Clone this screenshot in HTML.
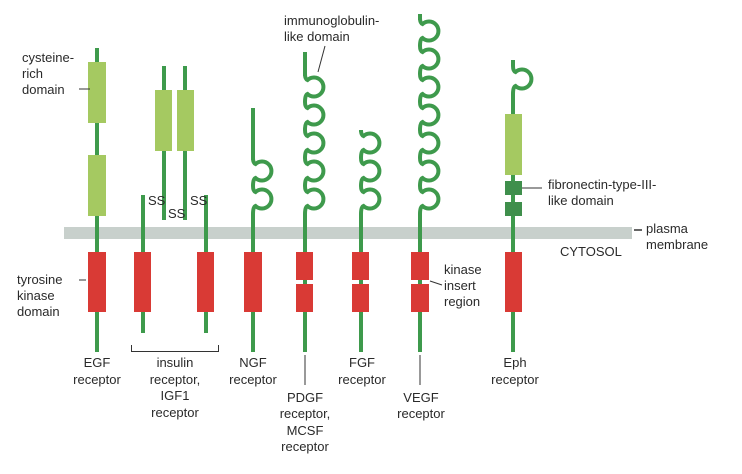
<!DOCTYPE html>
<html><head><meta charset="utf-8"><style>
html,body{margin:0;padding:0;background:#fff;}
svg{display:block;}
text{font-family:"Liberation Sans",sans-serif;font-size:13px;fill:#2a2a2a;}
</style></head><body>
<svg width="742" height="474" viewBox="0 0 742 474" xmlns="http://www.w3.org/2000/svg">
<defs>
<g id="loop"><path d="M0,0 Q0,5 2.5,6 A9.5 9.5 0 1 1 2.5,20 Q0,21 0,28" fill="none" stroke="#3e9a4c" stroke-width="4"/></g>
</defs>
<rect x="64" y="227" width="568" height="12" fill="#c8d0cc"/>
<g stroke="#3e9a4c" stroke-width="4" fill="none">
<line x1="97" y1="48" x2="97" y2="352"/>
<line x1="143" y1="195" x2="143" y2="333"/>
<line x1="206" y1="195" x2="206" y2="333"/>
<line x1="164" y1="66" x2="164" y2="220"/>
<line x1="185" y1="66" x2="185" y2="220"/>
<line x1="253" y1="108" x2="253" y2="160"/>
<line x1="253" y1="214" x2="253" y2="352"/>
<line x1="305" y1="52" x2="305" y2="76"/>
<line x1="305" y1="214" x2="305" y2="352"/>
<line x1="361" y1="130" x2="361" y2="132"/>
<line x1="361" y1="214" x2="361" y2="352"/>
<line x1="420" y1="14" x2="420" y2="20"/>
<line x1="420" y1="214" x2="420" y2="352"/>
<line x1="513" y1="60" x2="513" y2="66"/>
<line x1="513" y1="94" x2="513" y2="352"/>
</g>
<g>
<use href="#loop" x="253" y="158"/><use href="#loop" x="253" y="186"/>
<use href="#loop" x="305" y="74"/><use href="#loop" x="305" y="102"/><use href="#loop" x="305" y="130"/><use href="#loop" x="305" y="158"/><use href="#loop" x="305" y="186"/>
<use href="#loop" x="361" y="130"/><use href="#loop" x="361" y="158"/><use href="#loop" x="361" y="186"/>
<use href="#loop" x="420" y="18"/><use href="#loop" x="420" y="46"/><use href="#loop" x="420" y="74"/><use href="#loop" x="420" y="102"/><use href="#loop" x="420" y="130"/><use href="#loop" x="420" y="158"/><use href="#loop" x="420" y="186"/>
<use href="#loop" x="513" y="66"/>
</g>
<g fill="#a5c961">
<rect x="88" y="62" width="18" height="61"/>
<rect x="88" y="155" width="18" height="61"/>
<rect x="155" y="90" width="17" height="61"/>
<rect x="177" y="90" width="17" height="61"/>
<rect x="505" y="114" width="17" height="61"/>
</g>
<g fill="#3f8f4c">
<rect x="505" y="181" width="17" height="14"/>
<rect x="505" y="202" width="17" height="14"/>
</g>
<g fill="#d93a35">
<rect x="88" y="252" width="18" height="60"/>
<rect x="134" y="252" width="17" height="60"/>
<rect x="197" y="252" width="17" height="60"/>
<rect x="244" y="252" width="18" height="60"/>
<rect x="296" y="252" width="17" height="28"/><rect x="296" y="284" width="17" height="28"/>
<rect x="352" y="252" width="17" height="28"/><rect x="352" y="284" width="17" height="28"/>
<rect x="411" y="252" width="18" height="28"/><rect x="411" y="284" width="18" height="28"/>
<rect x="505" y="252" width="17" height="60"/>
</g>
<g stroke="#333" stroke-width="1" fill="none">
<line x1="79" y1="89" x2="90" y2="89"/>
<line x1="79" y1="280" x2="86" y2="280"/>
<line x1="325" y1="46" x2="318" y2="72"/>
<line x1="522" y1="188" x2="542" y2="188"/>
<line x1="634" y1="230" x2="642" y2="230" stroke-width="1.5"/>
<line x1="430" y1="281" x2="442" y2="285"/>
<path d="M131.5,345 V351.5 H218.5 V345"/>
<line x1="305" y1="355" x2="305" y2="385"/>
<line x1="420" y1="355" x2="420" y2="385"/>
</g>
<text x="22" y="62">cysteine-</text>
<text x="22" y="78">rich</text>
<text x="22" y="94">domain</text>
<text x="148" y="205" font-size="12">SS</text>
<text x="168" y="218" font-size="12">SS</text>
<text x="190" y="205" font-size="12">SS</text>
<text x="284" y="25">immunoglobulin-</text>
<text x="284" y="41">like domain</text>
<text x="548" y="189">fibronectin-type-III-</text>
<text x="548" y="205">like domain</text>
<text x="646" y="233">plasma</text>
<text x="646" y="249">membrane</text>
<text x="560" y="256">CYTOSOL</text>
<text x="17" y="284">tyrosine</text>
<text x="17" y="300">kinase</text>
<text x="17" y="316">domain</text>
<text x="444" y="274">kinase</text>
<text x="444" y="290">insert</text>
<text x="444" y="306">region</text>
<g text-anchor="middle">
<text x="97" y="367">EGF</text><text x="97" y="384">receptor</text>
<text x="175" y="367">insulin</text><text x="175" y="384">receptor,</text><text x="175" y="400">IGF1</text><text x="175" y="417">receptor</text>
<text x="253" y="367">NGF</text><text x="253" y="384">receptor</text>
<text x="305" y="402">PDGF</text><text x="305" y="418">receptor,</text><text x="305" y="435">MCSF</text><text x="305" y="451">receptor</text>
<text x="362" y="367">FGF</text><text x="362" y="384">receptor</text>
<text x="421" y="402">VEGF</text><text x="421" y="418">receptor</text>
<text x="515" y="367">Eph</text><text x="515" y="384">receptor</text>
</g>
</svg>
</body></html>
